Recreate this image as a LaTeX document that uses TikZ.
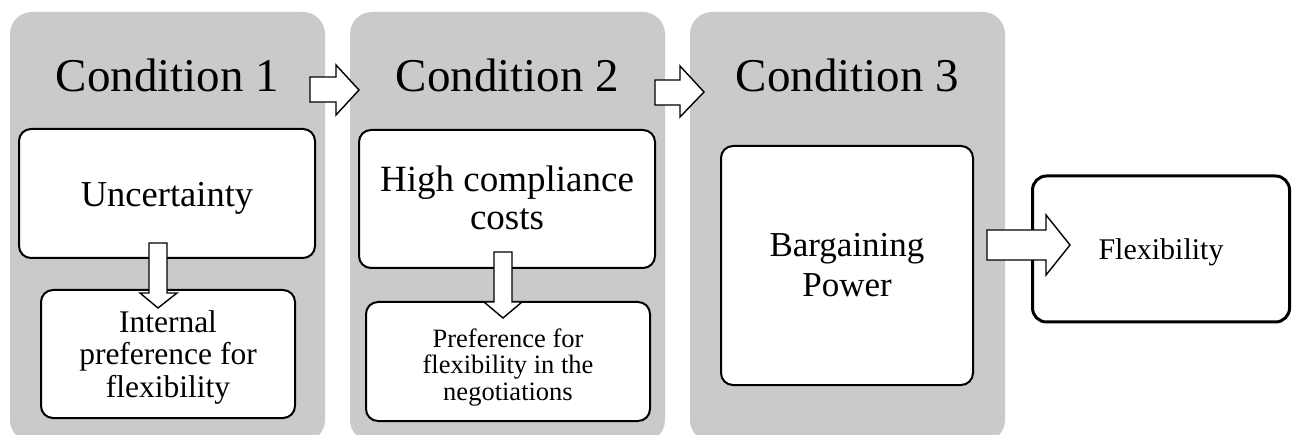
\documentclass[tikz,border=0pt]{standalone}
\usepackage{fontspec}
\setmainfont{Liberation Serif}
\definecolor{panelgray}{RGB}{202,202,202}
\newcommand{\mlines}[2]{\vtop{\baselineskip=#1\relax\lineskiplimit=-20pt\relax\halign{\hfil##\hfil\cr#2\crcr}}}
\tikzset{
  panel/.style={fill=panelgray, draw=none, rounded corners=22pt},
  wbox/.style={draw=black, fill=white, line width=2pt, rounded corners=12pt, inner sep=0pt},
  fbox/.style={draw=black, fill=white, line width=3pt, rounded corners=14pt, inner sep=0pt},
  barrow/.style={draw=black, fill=white, line width=1.4pt, line join=miter},
  lbl/.style={anchor=base, inner sep=0pt, text=black},
}
\begin{document}
\begin{tikzpicture}[x=1pt,y=-1pt]
\useasboundingbox (0,0) rectangle (1292,435);
\begin{scope}
\clip (0,0) rectangle (1292,435);
% panels
\path[panel] (10,12) rectangle (325,442);
\path[panel] (350,12) rectangle (665,442);
\path[panel] (690,12) rectangle (1005,442);
\end{scope}
% boxes
\node[wbox, minimum width=296pt, minimum height=129pt] (unc) at (167,193.5) {};
\node[wbox, minimum width=254pt, minimum height=128pt] (ipf) at (168,354) {};
\node[wbox, minimum width=296pt, minimum height=138pt] (hcc) at (507,199) {};
\node[wbox, minimum width=284pt, minimum height=119pt] (pfn) at (508,361.5) {};
\node[wbox, minimum width=252pt, minimum height=239pt] (bp) at (847,265.5) {};
\node[fbox, minimum width=257pt, minimum height=146pt] (flex) at (1161,249) {};
% block arrows
\draw[barrow] (310,77) -- (336,77) -- (336,65) -- (359,90) -- (336,115) -- (336,102) -- (310,102) -- cycle;
\draw[barrow] (655,80) -- (680,80) -- (680,66) -- (704,92) -- (680,117) -- (680,105) -- (655,105) -- cycle;
\draw[barrow] (149,243) -- (167,243) -- (167,293) -- (177,293) -- (158,308) -- (140,293) -- (149,293) -- cycle;
\draw[barrow] (494,252) -- (512,252) -- (512,302) -- (522,302) -- (503,318) -- (484,302) -- (494,302) -- cycle;
\draw[barrow] (987,230) -- (1046,230) -- (1046,215) -- (1070,245) -- (1046,275) -- (1046,260) -- (987,260) -- cycle;
% texts
\node[lbl, font=\fontsize{47}{50}\selectfont] (c1) at (167.5,92) {Condition 1};
\node[lbl, font=\fontsize{47}{50}\selectfont] (c2) at (507.5,92) {Condition 2};
\node[lbl, font=\fontsize{47}{50}\selectfont] (c3) at (847.5,92) {Condition 3};
\node[lbl, font=\fontsize{36.5}{40}\selectfont] (tunc) at (167,207) {Uncertainty};
\node[lbl, font=\fontsize{31.5}{33}\selectfont] (tipf) at (168,332) {\mlines{32.5pt}{Internal\cr preference for\cr flexibility}};
\node[lbl, font=\fontsize{37}{38}\selectfont] (thcc) at (507,192) {\mlines{38pt}{High compliance\cr costs}};
\node[lbl, font=\fontsize{26.5}{26.5}\selectfont] (tpfn) at (508,347) {\mlines{26.5pt}{Preference for\cr flexibility in the\cr negotiations}};
\node[lbl, font=\fontsize{35}{40}\selectfont] (tbp) at (847,257) {\mlines{39.5pt}{Bargaining\cr Power}};
\node[lbl, font=\fontsize{30}{32}\selectfont] (tflex) at (1161,260) {Flexibility};
\end{tikzpicture}
\end{document}
